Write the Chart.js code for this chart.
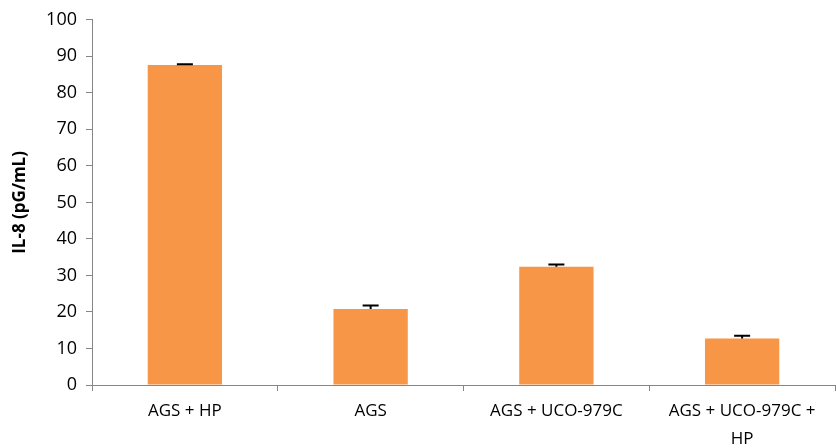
<!DOCTYPE html>
<html>
<head>
<meta charset="utf-8">
<script src="https://cdn.jsdelivr.net/npm/chart.js@4"></script>
<style>
  html, body { margin: 0; padding: 0; background: #fff; }
  #wrap { width: 836px; height: 448px; }
</style>
</head>
<body>
<div id="wrap"><canvas id="chart" width="836" height="448"></canvas></div>
<script>
// data
const categories = [['AGS + HP'], ['AGS'], ['AGS + UCO-979C'], ['AGS + UCO-979C +', 'HP']];
const values = [87.6, 20.8, 32.4, 12.7];
const errors = [0.2, 1.0, 0.6, 0.8];

const axisGray = '#868686';
const barColor = '#F79646';

// error bars drawn on top of the bars
const errorBars = {
  id: 'errorBars',
  afterDatasetsDraw(chart) {
    const ctx = chart.ctx;
    const y = chart.scales.y;
    const meta = chart.getDatasetMeta(0);
    ctx.save();
    ctx.strokeStyle = '#000';
    ctx.lineWidth = 2;
    meta.data.forEach((bar, i) => {
      const top = y.getPixelForValue(values[i] + errors[i]);
      const bot = y.getPixelForValue(values[i]);
      ctx.beginPath();
      ctx.moveTo(bar.x, bot);
      ctx.lineTo(bar.x, top);
      ctx.moveTo(bar.x - 8, top);
      ctx.lineTo(bar.x + 8, top);
      ctx.stroke();
    });
    ctx.restore();
  }
};

const ctx = document.getElementById('chart').getContext('2d');
const chart = new Chart(ctx, {
  type: 'bar',
  data: {
    labels: categories,
    datasets: [{
      data: values,
      backgroundColor: barColor,
      borderWidth: 0,
      categoryPercentage: 1,
      barPercentage: 0.4
    }]
  },
  options: {
    responsive: false,
    animation: false,
    layout: { padding: { top: 18, right: 1, left: 0, bottom: 0 } },
    plugins: { legend: { display: false }, tooltip: { enabled: false } },
    scales: {
      x: {
        grid: {
          offset: true,
          drawOnChartArea: false,
          color: axisGray,
          tickLength: 6
        },
        border: { color: axisGray, width: 1 },
        ticks: {
          color: '#000',
          font: { family: 'Open Sans', size: 17, lineHeight: 1.65 },
          maxRotation: 0,
          autoSkip: false,
          padding: 6
        },
        afterFit(scale) { scale.height = 63; }
      },
      y: {
        min: 0,
        max: 100,
        grid: {
          drawOnChartArea: false,
          color: axisGray,
          tickLength: 6
        },
        border: { color: axisGray, width: 1 },
        ticks: {
          stepSize: 10,
          color: '#000',
          font: { family: 'Open Sans', size: 18 },
          padding: 9
        },
        title: {
          display: true,
          text: 'IL-8 (pG/mL)',
          color: '#000',
          font: { family: 'Open Sans', size: 17, weight: 'bold' },
          padding: { top: 10, bottom: 0 }
        },
        afterFit(scale) { scale.width = 92; }
      }
    }
  },
  plugins: [errorBars]
});
</script>
</body>
</html>
